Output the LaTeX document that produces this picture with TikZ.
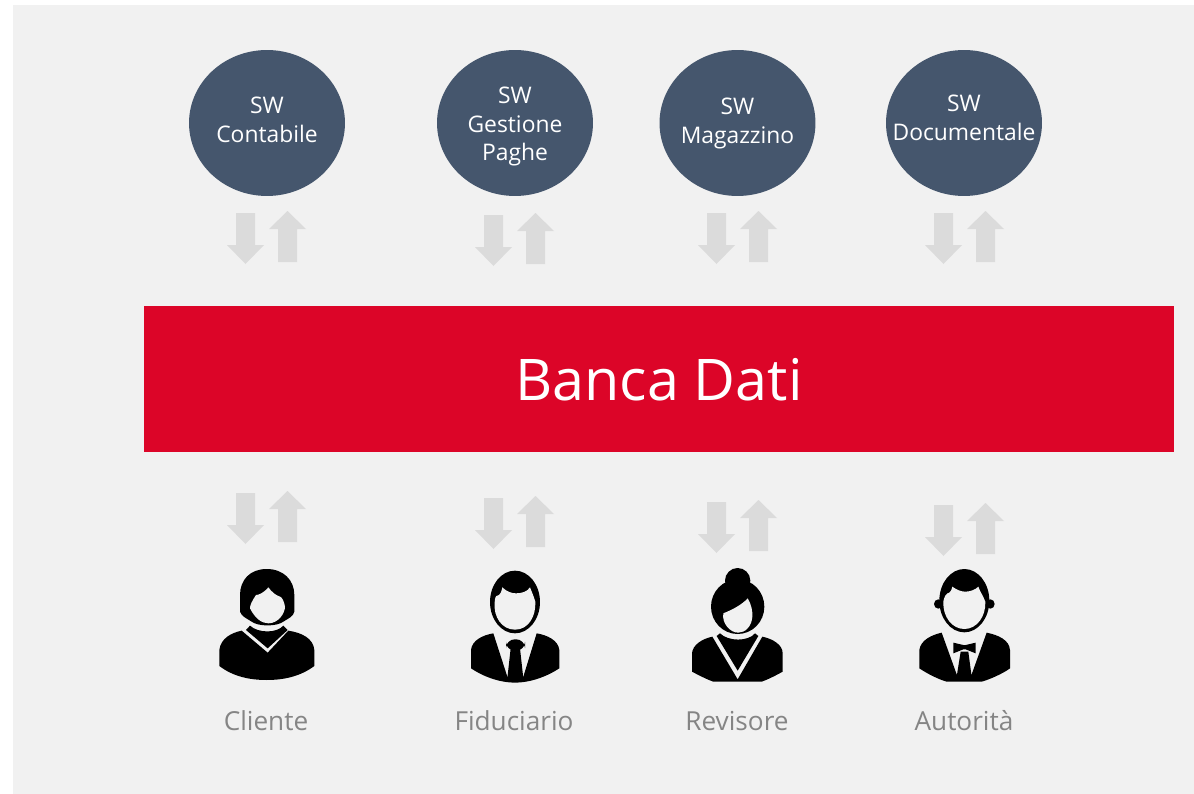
\documentclass[tikz,border=0pt]{standalone}
\usepackage{fontspec}
\setmainfont{Open Sans}
\usetikzlibrary{shapes.geometric}
\definecolor{panelgray}{HTML}{F1F1F1}
\definecolor{swblue}{HTML}{45566D}
\definecolor{bancared}{HTML}{DC0528}
\definecolor{arrowgray}{HTML}{DBDBDB}
\definecolor{labelgray}{HTML}{858585}
\tikzset{
  swcircle/.style={ellipse, fill=swblue, inner sep=0pt, minimum width=3.12cm, minimum height=2.92cm},
  swtext/.style={text=white, align=center, font=\fontsize{13}{16.4}\selectfont},
  bancabox/.style={fill=bancared, inner sep=0pt, minimum width=20.6cm, minimum height=2.92cm},
  bancatext/.style={text=white, font=\fontsize{32.7}{40}\selectfont},
  personlabel/.style={text=labelgray, font=\fontsize{14.9}{18}\selectfont},
  arrowblock/.style={fill=arrowgray},
  person/.style={fill=black},
  skin/.style={fill=panelgray}
}
\begin{document}
\begin{tikzpicture}[x=0.02cm, y=-0.02cm]
  \useasboundingbox (0,0) rectangle (1194,794);
  \fill[panelgray] (13,5) rectangle (1194,794);

  % software circles
  \foreach \nm/\x/\ty/\txt in {conta/267/120/{SW\\Contabile}, paghe/515/126.5/{SW\\Gestione\\Paghe},
      magaz/737.5/123.5/{SW\\Magazzino}, docum/964/117.5/{SW\\Documentale}}
  {
  \node[swcircle] (\nm) at (\x, 123) {};
  \node[swtext] (\nm text) at (\x, \ty) {\txt};
  }

  \node[bancabox] (banca) at (659, 379) {};
  \node[bancatext] (bancalabel) at (659, 380) {Banca Dati};

  % arrow pairs, above and below the red band
  \foreach \x/\y in {227/211, 475/213, 698/211, 925/211, 227/491, 475/496, 698/500, 925/503}
  {
  \fill[arrowblock] (\x+9, \y+2) -- (\x+28, \y+2) -- (\x+28, \y+34) -- (\x+37, \y+34) -- (\x+18.5, \y+53) -- (\x, \y+34) -- (\x+9, \y+34) -- cycle;
  \fill[arrowblock] (\x+60.5, \y) -- (\x+79, \y+18) -- (\x+70, \y+18) -- (\x+70, \y+51) -- (\x+51, \y+51) -- (\x+51, \y+18) -- (\x+42, \y+18) -- cycle;
  }

  % Cliente
  \begin{scope}[shift={(200,480)}, scale=1/3]
  \fill[person] (200,267) .. controls (150,267) and (120,300) .. (120,345) -- (120,395) .. controls (125,410) and (140,415) .. (155,425) .. controls (175,440) and (230,440) .. (250,425) .. controls (265,415) and (280,410) .. (283,395) -- (283,345) .. controls (283,300) and (250,267) .. (200,267);
  \fill[skin] (205,322) .. controls (190,340) and (175,345) .. (168,345) .. controls (155,365) and (150,375) .. (150,385) .. controls (165,415) and (185,430) .. (205,430) .. controls (235,430) and (255,400) .. (255,380) .. controls (253,365) and (245,350) .. (240,350) .. controls (225,345) and (215,335) .. (205,322);
  \fill[person] (58,558) -- (58,510) .. controls (62,475) and (95,458) .. (125,452) -- (203,518) -- (265,452) .. controls (305,458) and (340,475) .. (343,510) -- (343,558) .. controls (300,590) and (250,600) .. (200,600) .. controls (150,600) and (100,590) .. (58,558);
  \fill[person] (150,437) -- (138,450) -- (203,505) -- (263,450) -- (250,437) .. controls (230,460) and (175,460) .. (150,437);
  \end{scope}

  % Fiduciario
  \begin{scope}[shift={(200,480)}, scale=1/3]
  \fill[person] (945,366) ellipse (75 and 94);
  \fill[skin] (884,368) .. controls (884,355) and (888,345) .. (893,347) .. controls (900,345) and (905,335) .. (907,322) .. controls (920,335) and (935,340) .. (948,340) .. controls (965,340) and (982,335) .. (990,322) .. controls (995,335) and (1000,345) .. (1006,365) .. controls (1008,410) and (985,449) .. (945,449) .. controls (905,449) and (880,410) .. (884,368);
  \fill[person] (813,565) -- (813,510) .. controls (816,480) and (850,465) .. (880,460) -- (922,590) -- (970,590) -- (1010,460) .. controls (1040,465) and (1075,480) .. (1078,510) -- (1078,565) .. controls (1040,590) and (990,608) .. (945,608) .. controls (900,608) and (850,590) .. (813,565);
  \fill[person, rounded corners=5pt] (918,478) rectangle (975,512);
  \fill[person] (932,505) -- (922,595) -- (970,595) -- (960,505) -- cycle;
  \end{scope}

  % Revisore
  \begin{scope}[shift={(670,490)}, scale=1/3]
  \fill[person] (203,272) circle (38);
  \fill[person] (203,350) ellipse (80 and 82);
  \fill[skin] (160,370) .. controls (185,360) and (215,345) .. (233,325) .. controls (245,345) and (248,365) .. (247,380) .. controls (245,410) and (225,428) .. (205,428) .. controls (180,428) and (155,400) .. (160,370);
  \fill[person] (66,545) -- (66,490) .. controls (68,465) and (95,447) .. (127,440) -- (203,568) -- (277,440) .. controls (310,447) and (338,465) .. (338,490) -- (338,545) .. controls (320,555) and (295,568) .. (275,575) -- (130,575) .. controls (110,568) and (85,555) .. (66,545);
  \fill[person] (150,430) -- (140,438) -- (203,542) -- (265,438) -- (255,430) .. controls (235,455) and (175,455) .. (150,430);
  \end{scope}

  % Autorita
  \begin{scope}[shift={(670,490)}, scale=1/3]
  \fill[person] (883,332) ellipse (75 and 95);
  \fill[person] (805,342) ellipse (13 and 14);
  \fill[person] (961,342) ellipse (13 and 14);
  \fill[skin] (820,335) .. controls (822,320) and (830,308) .. (838,308) .. controls (843,305) and (845,298) .. (847,290) .. controls (860,300) and (875,305) .. (885,305) .. controls (900,305) and (915,300) .. (925,290) .. controls (930,305) and (940,318) .. (946,335) .. controls (948,380) and (920,417) .. (883,417) .. controls (846,417) and (818,380) .. (820,335);
  \fill[person] (748,535) -- (748,480) .. controls (752,450) and (785,435) .. (815,428) -- (860,553) -- (905,553) -- (950,428) .. controls (985,435) and (1018,450) .. (1020,480) -- (1020,535) .. controls (1000,550) and (960,568) .. (935,575) -- (830,575) .. controls (805,568) and (770,550) .. (748,535);
  \fill[person] (872,485) -- (860,560) -- (905,560) -- (895,485) -- cycle;
  \fill[person] (850,458) -- (880,465) -- (887,465) -- (917,458) -- (917,490) -- (887,478) -- (880,478) -- (850,490) -- cycle;
  \end{scope}

  \node[personlabel] (cliente) at (266, 721) {Cliente};
  \node[personlabel] (fiduciario) at (514, 721) {Fiduciario};
  \node[personlabel] (revisore) at (737, 721) {Revisore};
  \node[personlabel] (autorita) at (964, 721) {Autorità};
\end{tikzpicture}
\end{document}
